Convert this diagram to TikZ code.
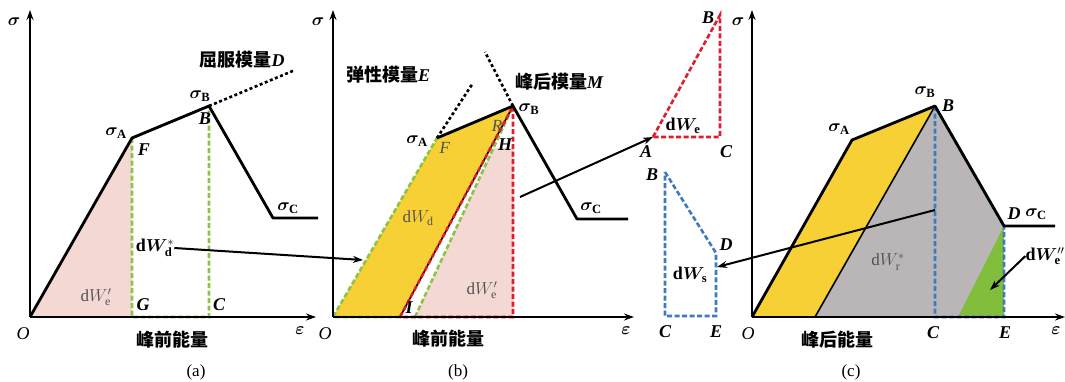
\documentclass[tikz,border=0pt]{standalone}
\usepackage{amsmath}
\usepackage{bm}
\usepackage{fontspec}
\setmainfont{Liberation Serif}
\newfontfamily\cjk{Noto Sans CJK SC}
\usetikzlibrary{arrows.meta, calc}

\definecolor{pinkfill}{RGB}{244,216,212}
\definecolor{yellowfill}{RGB}{246,208,52}
\definecolor{grayfill}{RGB}{186,182,183}
\definecolor{greenfill}{RGB}{128,190,60}
\definecolor{greendash}{RGB}{140,196,72}
\definecolor{reddash}{RGB}{222,30,44}
\definecolor{bluedash}{RGB}{62,122,190}
\definecolor{areatext}{RGB}{80,80,80}

\newcommand{\lett}[1]{{\rmfamily\bfseries\itshape #1}}

\begin{document}
\begin{tikzpicture}[
  x=1pt, y=-1pt,
  lbl/.style={font=\fontsize{18}{20}\selectfont, inner sep=0pt},
  area/.style={font=\fontsize{17}{19}\selectfont, inner sep=0pt, text=areatext},
  cn/.style={font=\cjk\bfseries\fontsize{18}{20}\selectfont, inner sep=0pt},
  capt/.style={font=\fontsize{17}{19}\selectfont, inner sep=0pt},
  axis/.style={line width=2.4pt, -{Stealth[length=10pt, width=7pt]}},
  curve/.style={line width=2.8pt, line join=round},
  edge/.style={line width=1.6pt},
  dotline/.style={line width=2.6pt, dash pattern=on 3pt off 2.5pt},
  gdash/.style={greendash, line width=2.6pt, dash pattern=on 5pt off 2.5pt},
  rdash/.style={reddash, line width=2.6pt, dash pattern=on 5pt off 2.5pt},
  bdash/.style={bluedash, line width=2.6pt, dash pattern=on 5pt off 2.5pt},
  arr/.style={line width=2pt, -{Stealth[length=10pt, width=7pt]}},
]
\useasboundingbox (0,0) rectangle (1065,381);

% (a) 峰前
\coordinate (aO) at (30,317);
\coordinate (aA) at (132,138);
\coordinate (aB) at (209,106);
\coordinate (aK) at (273,218);
\coordinate (aR) at (318,218);
\coordinate (aG) at (132,317);
\coordinate (aC) at (209,317);
\coordinate (aD) at (295,70);
\coordinate (aY) at (30,10);
\coordinate (aX) at (316,317);

\fill[pinkfill] (aO) -- (aA) -- (aG) -- cycle;
\draw[gdash] (aA) -- (aG) -- (aC) -- (aB) -- cycle;
\draw[axis] (aO) -- (aY);
\draw[axis] (aO) -- (aX);
\draw[curve] (aO) -- (aA) -- (aB) -- (aK) -- (aR);
\draw[dotline] (aB) -- (aD);

\node[lbl] (aSig) at (14,22) {$\bm{\sigma}$};
\node[lbl] (aEps) at (300,331) {$\bm{\varepsilon}$};
\node[lbl] (aOl) at (23,334) {\textit{O}};
\node[lbl] (aSA) at (116,133) {$\bm{\sigma}_{\mathbf{A}}$};
\node[lbl] (aF) at (144,150) {\lett{F}};
\node[lbl] (aSB) at (200,96) {$\bm{\sigma}_{\mathbf{B}}$};
\node[lbl] (aBl) at (205,119) {\lett{B}};
\node[cn] (aDl) at (242,60) {屈服模量\lett{D}};
\node[lbl] (aSC) at (288,208) {$\bm{\sigma}_{\mathbf{C}}$};
\node[lbl] (aGl) at (143,305) {\lett{G}};
\node[lbl] (aCl) at (219,305) {\lett{C}};
\node[area] (aWe) at (96,297) {$\mathrm{d}W'_{\mathrm{e}}$};
\node[lbl] (aWd) at (155,248) {$\mathbf{d}\bm{W}^{*}_{\mathbf{d}}$};
\node[cn] (aT) at (172,340) {峰前能量};
\node[capt] (aCap) at (196,372) {(a)};

% (b) 峰前分解
\coordinate (bO) at (333,317);
\coordinate (bA) at (437,138);
\coordinate (bB) at (513,106);
\coordinate (bK) at (577,219);
\coordinate (bR) at (628,219);
\coordinate (bI) at (400,317);
\coordinate (bJ) at (415,317);
\coordinate (bH) at (513,148);
\coordinate (bC) at (513,317);
\coordinate (bE) at (473,83);
\coordinate (bM) at (485,52);
\coordinate (bY) at (333,10);
\coordinate (bX) at (634,317);
\coordinate (bIn) at (363,260);
\coordinate (bP) at (520,197);

\fill[yellowfill] (bO) -- (bA) -- (bB) -- (bI) -- cycle;
\fill[pinkfill] (bJ) -- ($(bJ)!0.8!(bB)$) -- (bH) -- (bC) -- cycle;
\draw[gdash] (bI) -- (bO) -- (bA) -- (bB) (bJ) -- (bB);
\draw[edge] (bI) -- (bB);
\draw[rdash] (bI) -- (bB) -- (bC) -- cycle;
\draw[axis] (bO) -- (bY);
\draw[axis] (bO) -- (bX);
\draw[curve] (bA) -- (bB) -- (bK) -- (bR);
\draw[dotline] (bA) -- (bE);
\draw[dotline] (bB) -- (bM);

\node[lbl] (bSig) at (318,22) {$\bm{\sigma}$};
\node[lbl] (bEps) at (626,331) {$\bm{\varepsilon}$};
\node[lbl] (bOl) at (325,334) {\textit{O}};
\node[cn] (bEl) at (388,75) {弹性模量\lett{E}};
\node[cn] (bMl) at (559,82) {峰后模量\lett{M}};
\node[lbl] (bSB) at (529,109) {$\bm{\sigma}_{\mathbf{B}}$};
\node[lbl] (bSA) at (417,141) {$\bm{\sigma}_{\mathbf{A}}$};
\node[area] (bF) at (445,148) {\textit{F}};
\node[area] (bRl) at (497,126) {\textit{R}};
\node[lbl] (bHl) at (505,145) {\lett{H}};
\node[lbl] (bIl) at (409,308) {\lett{I}};
\node[area] (bWd) at (418,218) {$\mathrm{d}W_{\mathrm{d}}$};
\node[area] (bWe) at (482,290) {$\mathrm{d}W'_{\mathrm{e}}$};
\node[lbl] (bSC) at (591,208) {$\bm{\sigma}_{\mathbf{C}}$};
\node[cn] (bT) at (448,339) {峰前能量};
\node[capt] (bCap) at (458,372) {(b)};

% 中间：弹性能与耗散能
\coordinate (tA) at (653,137);
\coordinate (tB) at (720,15);
\coordinate (tC) at (720,137);
\draw[rdash] (tA) -- (tB) -- (tC) -- cycle;
\node[lbl] (tBl) at (708,18) {\lett{B}};
\node[lbl] (tAl) at (646,152) {\lett{A}};
\node[lbl] (tCl) at (726,152) {\lett{C}};
\node[lbl] (tW) at (683,126) {$\mathbf{d}\bm{W}_{\mathbf{e}}$};

\coordinate (sB) at (665,172);
\coordinate (sD) at (716,253);
\coordinate (sE) at (716,316);
\coordinate (sC) at (665,316);
\coordinate (sP) at (717,267);
\draw[bdash] (sB) -- (sD) -- (sE) -- (sC) -- cycle;
\node[lbl] (sBl) at (652,175) {\lett{B}};
\node[lbl] (sDl) at (726,245) {\lett{D}};
\node[lbl] (sCl) at (665,332) {\lett{C}};
\node[lbl] (sEl) at (716,332) {\lett{E}};
\node[lbl] (sW) at (690,275) {$\mathbf{d}\bm{W}_{\mathbf{s}}$};

% (c) 峰后
\coordinate (cO) at (752,317);
\coordinate (cA) at (852,140);
\coordinate (cB) at (935,106);
\coordinate (cD) at (1004,226);
\coordinate (cR) at (1055,226);
\coordinate (cI) at (815,317);
\coordinate (cC) at (935,317);
\coordinate (cE) at (1004,317);
\coordinate (cG) at (958,317);
\coordinate (cY) at (752,10);
\coordinate (cX) at (1065,317);
\coordinate (cP) at (935,210);
\coordinate (cW) at (990,290);

\fill[yellowfill] (cO) -- (cA) -- (cB) -- (cI) -- cycle;
\fill[grayfill] (cI) -- (cB) -- (cD) -- (cE) -- cycle;
\fill[greenfill] (cG) -- (cD) -- (cE) -- cycle;
\draw[edge] (cI) -- (cB);
\draw[bdash] (cB) -- (cC) -- (cE) -- (cD) -- cycle;
\draw[axis] (cO) -- (cY);
\draw[axis] (cO) -- (cX);
\draw[curve] (cO) -- (cA) -- (cB) -- (cD) -- (cR);

\node[lbl] (cSig) at (738,22) {$\bm{\sigma}$};
\node[lbl] (cEps) at (1056,331) {$\bm{\varepsilon}$};
\node[lbl] (cOl) at (748,334) {\textit{O}};
\node[lbl] (cSA) at (839,129) {$\bm{\sigma}_{\mathbf{A}}$};
\node[lbl] (cSB) at (925,92) {$\bm{\sigma}_{\mathbf{B}}$};
\node[lbl] (cBl) at (948,106) {\lett{B}};
\node[lbl] (cDl) at (1014,214) {\lett{D}};
\node[lbl] (cSC) at (1036,214) {$\bm{\sigma}_{\mathbf{C}}$};
\node[area] (cWr) at (888,262) {$\mathrm{d}W^{*}_{\mathrm{r}}$};
\node[lbl] (cWe) at (1045,256) {$\mathbf{d}\bm{W}''_{\mathbf{e}}$};
\node[lbl] (cCl) at (933,333) {\lett{C}};
\node[lbl] (cEl) at (1005,333) {\lett{E}};
\node[cn] (cT) at (837,340) {峰后能量};
\node[capt] (cCap) at (851,372) {(c)};

% 箭头
\draw[arr] (aWd.east) -- (bIn);
\draw[arr] (bP) -- (tA);
\draw[arr] (cP) -- (sP);
\draw[arr] (cWe.west) -- (cW);

\end{tikzpicture}
\end{document}
